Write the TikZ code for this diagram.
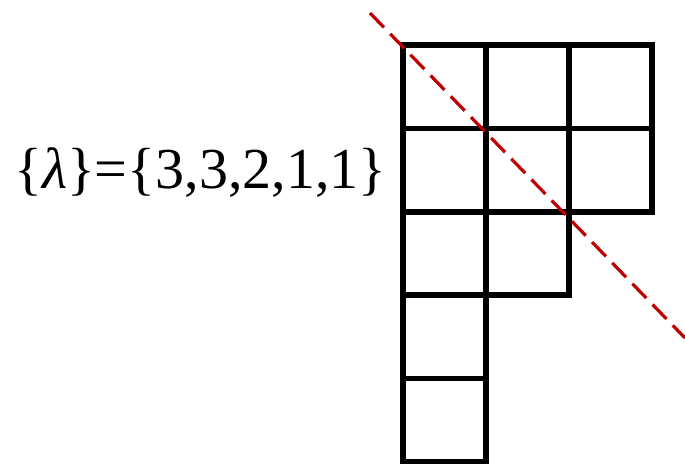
\documentclass[tikz,border=0pt]{standalone}
\usepackage{fontspec}
\newfontfamily\timesf{Liberation Serif}
\definecolor{dred}{RGB}{192,0,0}
\begin{document}
\begin{tikzpicture}[x=1pt,y=-1pt,
  cell/.style={draw=black,line width=5.5pt,line join=miter},
  diag/.style={draw=dred,line width=3.2pt,dash pattern=on 20pt off 9pt},
  lbl/.style={inner sep=0pt,anchor=base west}]
\useasboundingbox (0,0) rectangle (685,463);
\clip (0,0) rectangle (685,463);
% Young diagram {3,3,2,1,1}
\foreach \r/\n in {0/3,1/3,2/2,3/1,4/1}{
  \foreach \c in {1,...,\n}{
    \draw[cell] ({403+83*(\c-1)},{45+83.4*\r}) rectangle ++(83,83.4);
  }
}
\coordinate (d1) at (370,13);
\coordinate (d2) at (685,338);
\draw[diag] (d1) -- (d2);
\node[lbl] (lab) at (14,188) {\fontsize{58}{64}\timesf \{\textit{λ}\}=\{3,3,2,1,1\}};
\end{tikzpicture}
\end{document}
